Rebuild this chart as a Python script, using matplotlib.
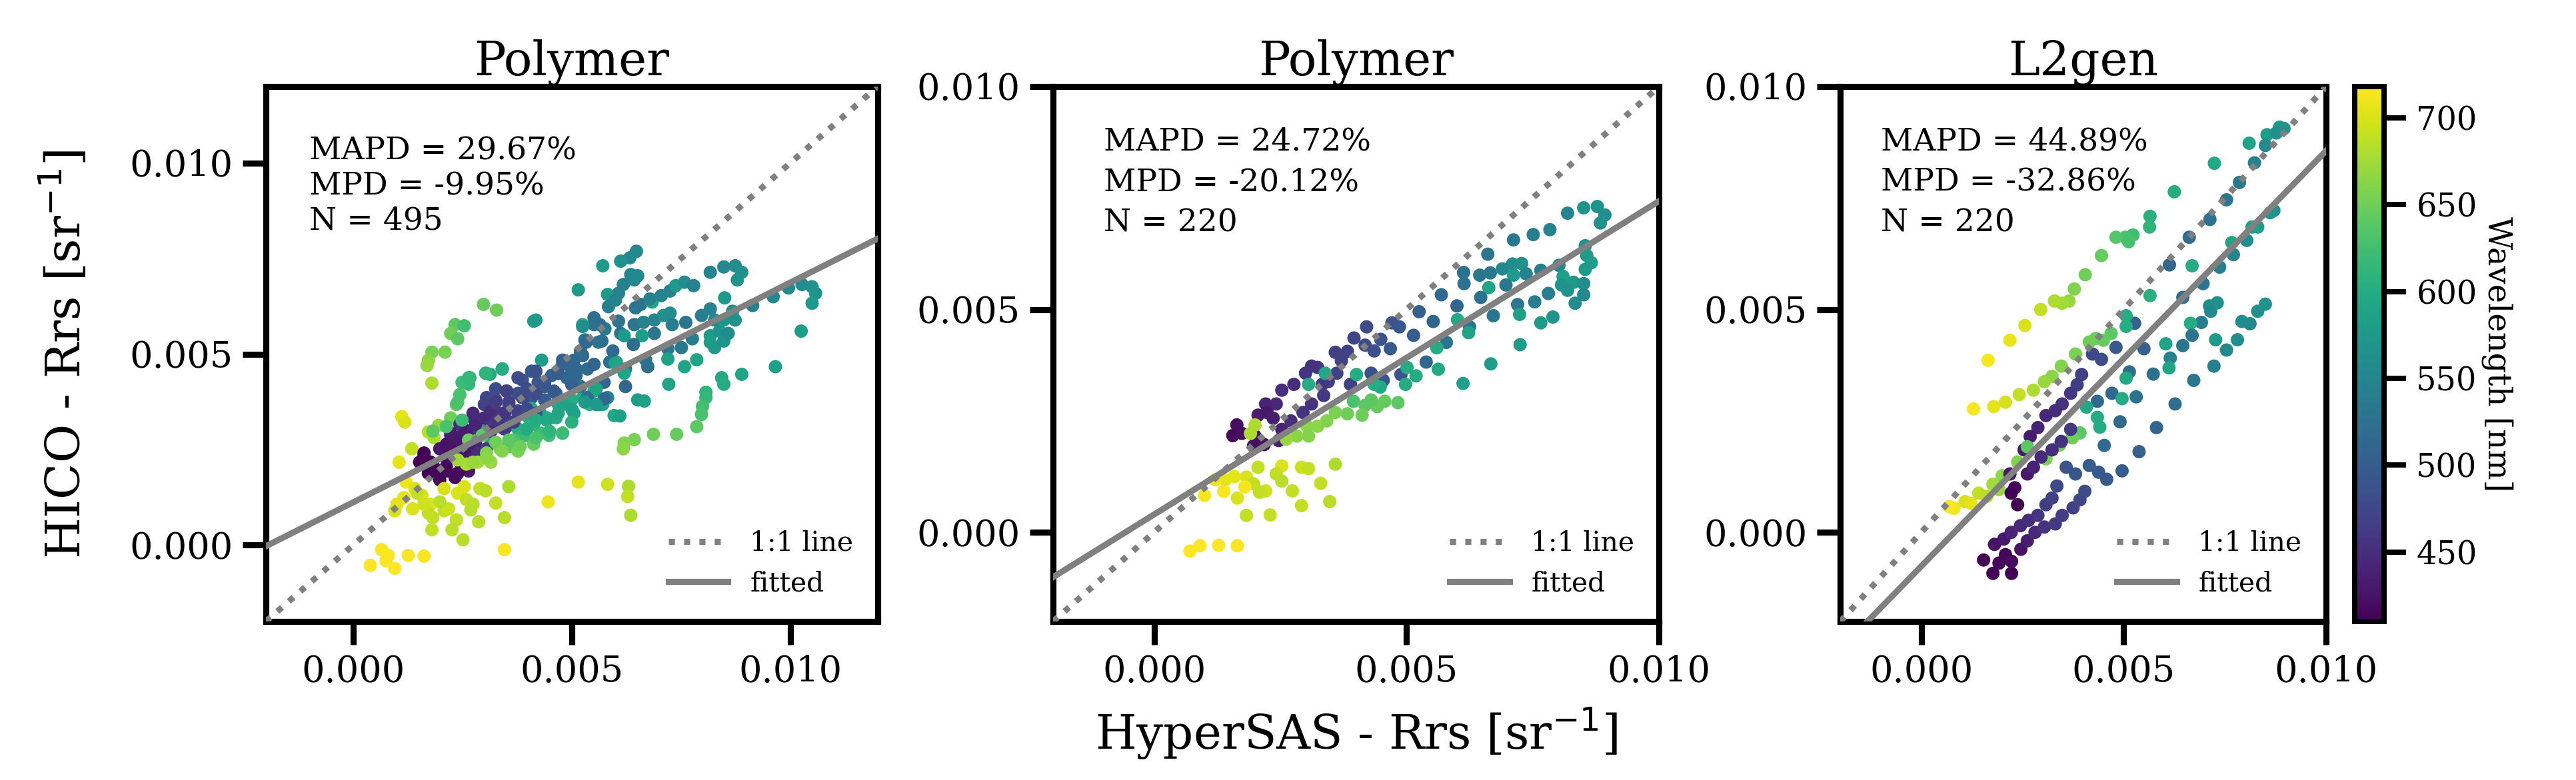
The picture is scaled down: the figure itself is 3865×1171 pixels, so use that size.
import numpy as np
import matplotlib
matplotlib.use("Agg")
import matplotlib.pyplot as plt
from matplotlib.ticker import FormatStrFormatter
from matplotlib.colors import Normalize

plt.rcParams['font.family'] = ['DejaVu Serif']

# values below are Rrs in units of 1e-3 sr^-1, wavelengths in nm

# ---- panel 1: Polymer, N = 495 ----
p1_x = [
    # green, upper left
    2.33, 2.54, 2.23, 2.39, 1.80, 2.10, 1.72, 1.69, 1.80, 2.67,
    2.64, 3.03, 3.13, 3.41, 4.13, 2.44, 2.36, 4.31, 2.98, 3.28, 4.18,
    # yellow, left
    1.11, 1.18, 1.72, 1.34, 1.05, 1.85, 1.95, 2.23,
    # purple / blue core
    1.62, 1.52, 1.72, 1.98, 2.33, 2.23, 2.13, 2.44, 2.64, 2.59,
    2.80, 2.49, 2.23, 2.44, 2.74, 2.64, 2.90, 3.05, 3.10, 3.26,
    3.41, 3.51, 3.26, 3.51, 3.77, 3.87, 4.08, 4.23, 4.38, 4.54,
    4.79, 5.05, 4.89, 5.20, 5.30, 5.51, 5.61, 5.76, 5.36, 5.10,
    4.64, 4.38, 4.08, 3.77, 3.56, 3.15, 2.95, 1.98, 1.82, 2.13,
    2.39, 2.54, 2.85, 3.05, 3.36, 3.67, 3.97, 3.46, 3.00, 3.26,
    3.05,
    # green arm
    3.77, 4.02, 3.87, 4.28, 4.48, 4.79, 4.64, 5.05, 5.00, 5.25,
    5.41, 5.61, 5.82, 5.51, 5.00, 4.69, 4.28, 4.08, 4.43, 4.13,
    3.97, 3.67, 3.36, 3.56, 3.77, 4.13, 3.05, 3.15, 2.85, 2.59,
    3.05, 2.85, 5.97, 5.71, 6.02, 5.25,
    # yellow scatter
    1.21, 1.41, 1.16, 1.00, 0.95, 1.36, 1.57, 1.77, 1.72, 1.82,
    2.08, 2.18, 1.98, 1.62, 1.46, 2.08, 2.39, 2.54, 2.90, 3.03,
    2.59, 2.74, 2.69, 2.36, 2.26, 1.80, 2.51, 2.87, 3.26, 3.46,
    3.56, 4.46, 3.46, 0.65, 0.80, 0.75, 1.26, 1.62, 0.39, 0.95,
    # teal, right
    6.48, 6.33, 6.12, 5.71, 6.35, 6.51, 6.43, 6.18, 6.07, 5.82,
    6.00, 5.84, 5.15, 5.51, 5.64, 5.25, 6.07, 6.12, 6.20, 6.46,
    6.58, 6.84, 6.79, 7.05, 7.25, 7.38, 7.58, 7.79, 8.17, 8.48,
    8.74, 8.89, 8.79, 6.43, 6.64, 6.89, 7.10, 7.25, 7.30, 6.89,
    6.61, 6.41, 5.94, 5.69, 5.33, 5.25, 5.51, 5.87, 6.00, 6.23,
    6.20, 6.69, 6.74, 7.20, 7.20, 7.51, 7.61, 7.76, 7.97, 8.17,
    8.27, 8.50, 8.68, 8.48, 8.74, 8.17, 8.38, 8.17, 8.27, 8.48,
    8.58, 7.58, 7.86, 9.14, 9.61, 9.96, 10.27, 10.50, 10.58, 10.50,
    10.25, 9.66, 8.89, 8.43, 8.48, 8.07, 8.07, 7.99, 7.97, 7.86,
    7.40, 6.87, 6.43, 6.20, 6.18, 7.22, 6.51, 6.66, 6.10, 5.74,
    6.23, 5.61, 5.36, 5.74, 5.20, 5.10, 5.56, 5.82, 5.15, 6.30,
    6.28, 6.35,
    # dense purple-blue band
    1.62, 1.77, 1.98, 2.13, 2.34, 2.28, 2.49, 2.13, 2.39, 2.64,
    2.59, 2.23, 2.80, 3.00, 2.74, 3.15, 3.31, 3.46, 3.15, 3.46,
    3.67, 3.77, 3.56, 3.26, 3.51, 3.87, 3.97, 4.18, 3.77, 4.18,
    4.38, 4.59, 4.69, 4.79, 5.00, 5.20, 5.00, 3.97, 4.18,
    # green band under it
    1.82, 2.13, 2.49, 2.64, 2.95, 3.26, 3.56, 3.82, 3.97, 4.18,
    4.43, 4.69, 4.79, 5.00, 5.30, 5.56, 4.49, 4.79, 4.18, 3.41,
    3.05, 2.74, 2.39,
    2.49, 2.39, 3.05, 3.41, 2.64,
]
p1_y = [
    5.77, 5.74, 5.54, 5.40, 5.05, 5.05, 4.84, 4.70, 4.24, 4.38,
    4.21, 4.50, 4.47, 4.61, 5.86, 3.94, 3.68, 4.84, 6.30, 6.15, 5.89,
    3.36, 3.22, 2.96, 2.52, 2.17, 2.81, 3.13, 3.33,
    2.41, 2.17, 1.88, 1.71, 1.77, 2.52, 2.29, 2.17, 1.94, 2.41,
    2.64, 2.87, 2.87, 3.16, 3.33, 2.99, 2.99, 2.87, 3.28, 3.51,
    3.33, 3.10, 3.80, 4.03, 3.97, 4.32, 4.55, 4.26, 4.15, 4.44,
    4.73, 4.84, 4.38, 5.08, 5.37, 5.77, 5.31, 5.66, 4.61, 4.44,
    3.97, 3.80, 3.86, 3.45, 3.68, 3.10, 3.22, 2.52, 2.12, 1.94,
    1.88, 2.06, 2.41, 2.52, 3.10, 3.22, 3.45, 3.45, 3.68, 4.09,
    3.86,
    3.04, 3.33, 2.87, 2.93, 2.87, 2.93, 3.33, 3.45, 3.22, 3.86,
    3.68, 3.68, 3.86, 4.03, 3.80, 3.68, 3.45, 3.57, 3.33, 3.16,
    2.87, 2.75, 2.52, 2.58, 2.46, 2.64, 2.41, 2.17, 2.17, 2.12,
    2.87, 3.16, 3.39, 3.68, 4.79, 5.77,
    1.65, 1.48, 1.24, 1.07, 0.90, 0.95, 1.30, 1.07, 0.84, 0.72,
    0.90, 0.95, 1.13, 1.07, 1.36, 1.48, 1.36, 1.53, 1.48, 1.42,
    1.19, 1.07, 0.92, 0.66, 0.40, 0.40, 0.14, 0.61, 1.10, 0.72,
    1.53, 1.13, -0.12, -0.12, -0.27, -0.41, -0.27, -0.29, -0.53, -0.61,
    7.69, 7.52, 7.43, 7.31, 7.08, 7.05, 6.94, 6.82, 6.59, 6.56,
    6.41, 6.24, 6.68, 5.95, 5.77, 5.72, 5.86, 5.54, 5.48, 6.21,
    6.30, 6.36, 6.44, 6.53, 6.65, 6.79, 6.88, 6.79, 7.14, 7.28,
    7.31, 7.14, 6.94, 5.77, 5.83, 5.89, 6.01, 6.07, 5.77, 5.54,
    5.48, 5.25, 5.08, 5.34, 5.31, 4.96, 4.73, 4.79, 4.76, 4.61,
    4.50, 4.85, 4.67, 5.14, 4.87, 5.17, 5.83, 5.40, 6.01, 6.18,
    5.89, 6.47, 6.12, 5.89, 5.89, 5.48, 5.60, 5.31, 5.17, 5.34,
    5.54, 4.67, 4.85, 6.27, 6.50, 6.73, 6.82, 6.76, 6.59, 6.33,
    5.60, 4.67, 4.47, 4.38, 4.21, 4.00, 3.86, 3.63, 3.42, 3.10,
    2.90, 2.90, 2.76, 2.67, 2.52, 4.21, 3.80, 3.77, 3.38, 4.26,
    4.15, 3.68, 3.86, 3.83, 4.15, 4.61, 4.09, 1.59, 1.65, 1.54,
    1.27, 0.78,
    2.35, 2.17, 1.94, 2.05, 1.82, 2.29, 2.46, 2.64, 2.75, 2.64,
    2.98, 2.93, 3.16, 3.33, 3.45, 3.51, 3.27, 3.45, 2.98, 3.04,
    3.22, 3.51, 3.74, 3.74, 4.03, 3.86, 4.09, 3.97, 4.38, 4.55,
    4.26, 4.03, 4.49, 4.84, 4.61, 4.96, 4.20, 3.56, 3.45,
    2.98, 3.10, 3.27, 2.75, 2.87, 2.69, 2.75, 2.58, 3.04, 3.27,
    3.27, 3.45, 3.68, 3.56, 3.74, 3.68, 2.98, 2.93, 2.81, 2.46,
    2.29, 2.17, 2.23,
    4.26, 3.74, 4.49, 4.61, 4.38,
]
p1_wl = [
    640, 625, 650, 640, 655, 655, 665, 670, 680, 610,
    615, 600, 595, 590, 585, 630, 640, 580, 645, 650, 575,
    705, 700, 685, 690, 705, 680, 670, 650,
    410, 410, 412, 415, 410, 420, 425, 425, 430, 435,
    440, 440, 445, 450, 455, 455, 460, 460, 465, 470,
    470, 475, 475, 480, 485, 490, 495, 495, 500, 505,
    510, 515, 510, 520, 525, 530, 530, 535, 515, 510,
    505, 500, 495, 490, 485, 470, 465, 430, 420, 418,
    415, 420, 450, 460, 478, 485, 495, 480, 470, 480,
    475,
    600, 600, 610, 620, 625, 640, 600, 590, 605, 600,
    610, 590, 545, 595, 600, 600, 590, 600, 600, 610,
    620, 630, 650, 640, 655, 645, 660, 670, 675, 680,
    600, 605, 595, 590, 590, 595,
    710, 700, 705, 705, 700, 700, 700, 700, 690, 690,
    690, 695, 685, 695, 690, 700, 700, 700, 690, 685,
    690, 685, 685, 690, 685, 690, 685, 685, 690, 685,
    680, 710, 715, 715, 715, 715, 715, 715, 718, 718,
    555, 555, 570, 575, 550, 555, 555, 545, 545, 575,
    545, 540, 575, 520, 520, 560, 530, 525, 575, 530,
    530, 590, 545, 545, 545, 575, 560, 545, 550, 555,
    560, 565, 570, 530, 545, 550, 565, 560, 540, 530,
    580, 520, 515, 520, 515, 510, 510, 520, 590, 520,
    590, 530, 520, 530, 585, 535, 530, 540, 540, 545,
    555, 575, 565, 570, 565, 575, 570, 580, 575, 570,
    560, 590, 590, 545, 555, 555, 560, 565, 570, 575,
    580, 585, 590, 595, 600, 610, 615, 625, 630, 640,
    645, 650, 655, 660, 665, 590, 580, 585, 585, 510,
    510, 585, 520, 510, 530, 510, 590, 695, 705, 680,
    690, 680,
    412, 412, 414, 416, 418, 420, 425, 425, 430, 432,
    435, 432, 440, 445, 445, 450, 455, 458, 452, 460,
    465, 470, 468, 465, 470, 475, 480, 482, 480, 485,
    490, 495, 500, 505, 510, 515, 505, 478, 485,
    640, 630, 620, 650, 640, 650, 640, 650, 600, 600,
    595, 590, 590, 585, 575, 575, 610, 620, 630, 660,
    665, 670, 675,
    620, 630, 610, 600, 615,
]

# ---- panel 2: Polymer, N = 220 ----
p2_x = [
    8.78, 8.93, 8.84, 8.51, 8.19, 7.84, 7.51, 7.12, 6.61, 6.13,
    6.45, 6.66, 6.90, 7.10, 7.28, 7.12, 7.37, 7.66, 8.02, 8.54,
    8.57, 8.66, 8.54, 8.10, 8.31, 8.07, 8.51, 8.19, 8.51, 8.34,
    7.81, 7.54, 7.20, 6.97, 6.63, 6.47, 6.14, 5.69, 6.00, 6.72,
    7.24, 7.66, 7.90, 7.25, 6.67, 6.12, 6.25, 6.23, 6.01, 5.79,
    5.60, 5.39, 5.63, 5.25, 5.53, 5.14, 4.86, 4.71, 4.68, 4.49,
    4.21, 4.36, 4.18, 3.96, 3.83, 3.59, 3.71, 3.62, 3.45, 3.24,
    3.33, 3.12, 3.00, 2.77, 2.53, 2.42, 2.21, 2.06, 2.24, 1.64,
    1.56, 1.74, 2.00, 2.18, 1.97, 2.47, 2.53, 2.36, 2.71, 2.95,
    3.12, 3.36, 3.89, 4.30, 4.54, 4.89, 5.01, 5.19, 4.98, 4.48,
    4.36, 4.01, 3.39, 3.06, 3.95, 4.18, 4.42, 4.57, 4.83, 4.30,
    4.12, 3.83, 3.59, 3.42, 3.24, 3.03, 3.06, 2.83, 2.62, 2.00,
    1.91, 2.06, 2.53, 2.92, 3.06, 3.59, 2.42, 2.53, 1.83, 1.59,
    1.41, 1.21, 1.97, 1.80, 2.21, 2.09, 1.38, 1.00, 1.65, 2.74,
    3.30, 3.48, 2.92, 1.83, 2.30, 0.71, 0.91, 1.28, 1.65,
]
p2_y = [
    7.31, 7.12, 6.94, 7.28, 7.16, 6.79, 6.68, 6.56, 6.24, 5.83,
    5.77, 5.82, 5.91, 6.02, 6.03, 5.77, 5.80, 5.88, 5.99, 6.43,
    6.21, 6.05, 5.90, 5.74, 5.61, 5.55, 5.58, 5.43, 5.33, 5.14,
    5.36, 5.17, 5.11, 5.55, 5.49, 5.27, 5.58, 5.33, 5.08, 4.86,
    4.89, 4.70, 4.83, 4.21, 3.78, 3.34, 4.61, 4.48, 4.77, 4.26,
    4.14, 3.82, 3.66, 4.95, 4.73, 4.42, 4.61, 4.70, 4.12, 4.33,
    4.61, 4.07, 4.20, 4.36, 4.06, 4.04, 3.85, 3.57, 3.38, 3.70,
    3.32, 3.73, 3.57, 3.32, 3.19, 2.88, 2.88, 2.63, 2.69, 2.41,
    2.17, 2.22, 2.16, 1.97, 1.94, 2.06, 2.31, 2.56, 2.50, 2.69,
    2.88, 3.07, 3.32, 3.57, 3.41, 3.54, 3.70, 3.51, 3.32, 3.26,
    3.32, 3.54, 3.57, 3.32, 2.94, 2.85, 2.82, 2.94, 2.91, 2.97,
    2.63, 2.66, 2.69, 2.50, 2.38, 2.38, 2.16, 2.16, 2.09, 2.41,
    2.22, 1.46, 1.49, 1.46, 1.43, 1.53, 1.31, 1.15, 1.24, 1.25,
    1.18, 1.18, 1.09, 1.02, 0.93, 0.90, 0.92, 0.83, 0.77, 0.93,
    1.10, 0.69, 0.60, 0.38, 0.39, -0.42, -0.30, -0.29, -0.30,
]
p2_wl = [
    565, 560, 565, 570, 550, 545, 540, 535, 530, 525,
    530, 535, 555, 560, 565, 575, 545, 540, 550, 570,
    575, 580, 575, 585, 575, 570, 560, 565, 555, 560,
    540, 540, 530, 535, 590, 525, 525, 515, 510, 530,
    585, 575, 570, 580, 580, 585, 535, 590, 595, 530,
    600, 510, 595, 505, 510, 500, 495, 490, 495, 490,
    480, 485, 480, 475, 470, 470, 470, 470, 465, 460,
    460, 455, 455, 450, 450, 445, 440, 435, 430, 420,
    415, 420, 425, 420, 420, 440, 440, 435, 450, 455,
    455, 460, 470, 485, 490, 490, 600, 600, 600, 595,
    600, 600, 595, 600, 630, 640, 645, 645, 640, 640,
    650, 650, 655, 660, 665, 665, 660, 665, 670, 680,
    680, 690, 700, 695, 690, 680, 690, 685, 700, 705,
    705, 710, 690, 712, 695, 690, 715, 715, 700, 690,
    690, 685, 690, 690, 690, 718, 718, 716, 715,
]

# ---- panel 3: L2gen, N = 220 ----
p3_x = [
    8.85, 8.96, 8.54, 8.77, 8.10, 8.50, 8.23, 7.24, 7.86, 7.54,
    6.25, 5.65, 5.64, 7.13, 6.62, 5.23, 5.04, 4.81, 5.12, 4.45,
    6.13, 6.69, 4.05, 3.78, 3.65, 3.48, 3.29, 2.95, 2.56, 2.19,
    1.65, 8.62, 8.71, 8.31, 8.17, 7.67, 8.04, 7.71, 7.37, 6.96,
    5.65, 6.46, 7.12, 7.31, 7.15, 8.31, 8.50, 7.92, 8.12, 6.92,
    6.65, 6.69, 6.46, 6.04, 7.27, 7.81, 7.54, 6.15, 6.12, 7.23,
    6.73, 5.73, 6.27, 5.81, 5.38, 4.96, 4.58, 4.38, 4.15, 3.81,
    3.58, 5.27, 5.06, 5.06, 4.81, 4.45, 4.23, 5.50, 3.96, 5.14,
    5.06, 4.71, 4.96, 5.31, 4.35, 4.08, 4.35, 4.41, 4.91, 4.52,
    4.69, 4.50, 4.31, 4.15, 3.81, 3.46, 3.23, 3.04, 2.77, 2.42,
    2.08, 1.79, 1.29, 3.85, 3.69, 3.48, 3.31, 3.08, 2.88, 2.69,
    2.54, 3.92, 3.73, 3.42, 3.08, 2.62, 2.38, 2.00, 1.77, 1.42,
    1.08, 0.81, 0.69, 1.23, 1.62, 1.92, 2.19, 2.31, 2.38, 2.22,
    2.62, 2.77, 2.96, 3.23, 3.46, 3.69, 1.54, 1.77, 2.08, 2.23,
    2.23, 1.92, 1.81, 2.04, 2.22, 2.45, 2.65, 2.88, 3.08, 3.23,
    3.35, 2.46, 2.62, 2.81, 3.04, 3.31, 3.48, 3.75, 3.92, 4.04,
]
p3_y = [
    9.09, 9.06, 8.92, 8.96, 8.73, 8.68, 8.29, 8.28, 7.85, 7.46,
    7.64, 7.09, 6.85, 7.02, 6.62, 6.67, 6.62, 6.62, 6.52, 6.21,
    6.00, 5.98, 5.78, 5.46, 5.19, 5.14, 5.19, 5.00, 4.64, 4.31,
    3.86, 7.17, 7.22, 6.85, 6.85, 6.50, 6.55, 6.23, 5.95, 5.58,
    5.31, 5.27, 5.08, 5.15, 4.96, 4.96, 5.12, 4.73, 4.68, 4.71,
    4.69, 4.42, 4.19, 4.23, 4.32, 4.32, 4.09, 3.91, 3.69, 3.73,
    3.41, 3.55, 2.88, 2.35, 1.81, 1.38, 1.19, 1.35, 1.50, 1.31,
    1.46, 4.69, 4.86, 4.62, 4.15, 3.88, 4.00, 4.12, 3.54, 3.60,
    3.46, 3.12, 3.00, 3.04, 2.94, 2.81, 2.58, 2.36, 2.48, 1.95,
    4.46, 4.31, 4.35, 4.27, 4.00, 3.73, 3.50, 3.38, 3.19, 3.09,
    2.92, 2.82, 2.77, 3.31, 3.12, 2.88, 2.73, 2.62, 2.35, 2.15,
    1.85, 2.23, 2.12, 1.96, 1.65, 1.92, 1.58, 1.27, 1.08, 0.88,
    0.69, 0.54, 0.58, 0.65, 0.81, 0.96, 1.31, 1.00, 0.62, 0.88,
    1.31, 1.46, 1.69, 1.85, 2.04, 2.31, -0.62, -0.92, -0.50, -0.92,
    -0.65, -0.69, -0.27, -0.15, 0.00, 0.15, 0.27, 0.38, 0.62, 0.77,
    1.04, -0.38, -0.19, 0.00, 0.12, 0.19, 0.38, 0.55, 0.73, 0.92,
]
p3_wl = [
    575, 570, 580, 565, 590, 555, 545, 595, 535, 530,
    600, 605, 610, 525, 520, 625, 630, 635, 628, 645,
    510, 600, 650, 660, 668, 675, 680, 690, 700, 708,
    715, 575, 570, 580, 585, 590, 560, 550, 540, 530,
    605, 520, 560, 565, 555, 565, 568, 560, 555, 540,
    600, 530, 530, 590, 575, 560, 555, 545, 590, 540,
    530, 525, 520, 510, 505, 500, 495, 498, 500, 492,
    490, 505, 600, 600, 495, 480, 478, 505, 470, 520,
    595, 515, 600, 525, 515, 595, 600, 600, 515, 515,
    640, 645, 648, 650, 655, 660, 665, 670, 680, 690,
    698, 705, 715, 465, 460, 455, 450, 445, 440, 435,
    430, 640, 650, 650, 655, 640, 660, 665, 675, 690,
    700, 712, 715, 705, 685, 670, 430, 415, 410, 412,
    430, 440, 445, 450, 455, 460, 410, 412, 415, 412,
    418, 415, 425, 430, 440, 445, 450, 458, 465, 470,
    478, 425, 435, 445, 455, 460, 465, 470, 475, 480,
]

titles = ["Polymer", "Polymer", "L2gen"]
stats = [
    "MAPD = 29.67%\nMPD = -9.95%\nN = 495",
    "MAPD = 24.72%\nMPD = -20.12%\nN = 220",
    "MAPD = 44.89%\nMPD = -32.86%\nN = 220",
]
limits = [(-0.002, 0.012), (-0.002, 0.010), (-0.002, 0.010)]
fit_slope = [0.575, 0.703, 0.932]
fit_intercept = [1.12e-3, 0.40e-3, -0.76e-3]
text_y = [0.0107, 0.0091, 0.0091]
text_spacing = [1.2, 1.45, 1.45]
wl_min, wl_max = 410, 718

panels = [(p1_x, p1_y, p1_wl), (p2_x, p2_y, p2_wl), (p3_x, p3_y, p3_wl)]

fig = plt.figure(figsize=(3865 / 300, 1171 / 300), dpi=300)
boxes = [
    [0.1032, 0.2032, 0.2375, 0.6858],
    [0.4088, 0.2032, 0.2352, 0.6858],
    [0.7144, 0.2032, 0.1886, 0.6858],
]
norm = Normalize(vmin=wl_min, vmax=wl_max)
lw_axes = 2.2

axes = []
for i, (px, py, pw) in enumerate(panels):
    ax = fig.add_axes(boxes[i])
    axes.append(ax)
    x = np.array(px) * 1e-3
    y = np.array(py) * 1e-3
    sc = ax.scatter(x, y, c=pw, cmap="viridis", norm=norm, s=23, linewidths=0, zorder=2)

    lo, hi = limits[i]
    line = np.array([lo, hi])
    ax.plot(line, line, ls=(0, (1, 1.5)), color="gray", lw=2.2, label="1:1 line", zorder=3)
    ax.plot(line, fit_slope[i] * line + fit_intercept[i], color="gray", lw=2.2,
            label="fitted", zorder=3)

    ax.set_xlim(lo, hi)
    ax.set_ylim(lo, hi)
    ax.set_xticks([0.0, 0.005, 0.010])
    ax.set_yticks([0.0, 0.005, 0.010])
    ax.xaxis.set_major_formatter(FormatStrFormatter("%.3f"))
    ax.yaxis.set_major_formatter(FormatStrFormatter("%.3f"))
    ax.tick_params(labelsize=13, length=8.4, width=lw_axes)
    for sp in ax.spines.values():
        sp.set_linewidth(lw_axes)

    ax.set_title(titles[i], fontsize=17, pad=4)
    ax.text(-0.001, text_y[i], stats[i], fontsize=11.3, va="top", ha="left",
            linespacing=text_spacing[i])
    ax.legend(loc="lower right", frameon=False, fontsize=9.8, handlelength=2.2)

axes[0].set_ylabel("HICO - Rrs [sr$^{-1}$]", fontsize=17, labelpad=14)
axes[1].set_xlabel("HyperSAS - Rrs [sr$^{-1}$]", fontsize=17, labelpad=6)

cax = fig.add_axes([0.9142, 0.2032, 0.0114, 0.6858])
cb = fig.colorbar(sc, cax=cax)
cb.set_ticks([450, 500, 550, 600, 650, 700])
cb.ax.tick_params(labelsize=11.5, length=8, width=1.9)
cb.outline.set_linewidth(1.9)
cb.set_label("Wavelength [nm]", rotation=270, fontsize=11.5, labelpad=13)

fig.savefig("out.png", dpi=300)
